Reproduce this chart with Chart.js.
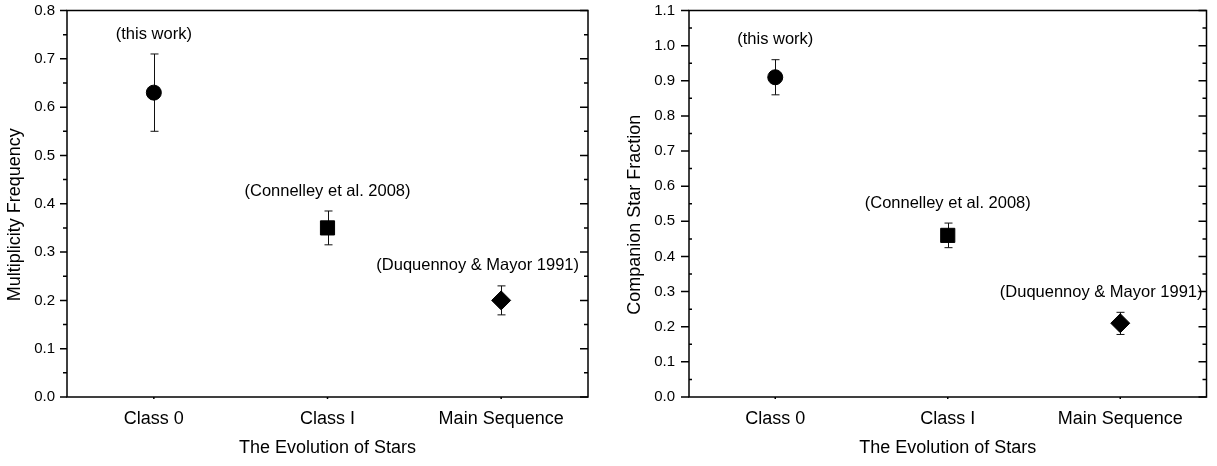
<!DOCTYPE html>
<html>
<head>
<meta charset="utf-8">
<script src="https://cdn.jsdelivr.net/npm/chart.js@4/dist/chart.umd.min.js"></script>
<style>
  html, body { margin: 0; padding: 0; background: #fff; }
  #wrap { position: relative; width: 1217px; height: 466px; }
  #c1 { position: absolute; left: 0; top: 0; }
  #c2 { position: absolute; left: 608px; top: 0; }
</style>
</head>
<body>
<div id="wrap">
  <canvas id="c1" width="608" height="466"></canvas>
  <canvas id="c2" width="609" height="466"></canvas>
</div>
<script>
// ---- data ----
const categories = ['Class 0', 'Class I', 'Main Sequence'];
const refLabels = ['(this work)', '(Connelley et al. 2008)', '(Duquennoy & Mayor 1991)'];

const multValues = [0.63, 0.35, 0.20];
const multErrLow = [0.55, 0.315, 0.17];
const multErrHigh = [0.71, 0.385, 0.23];

const compValues = [0.91, 0.46, 0.21];
const compErrLow = [0.86, 0.425, 0.178];
const compErrHigh = [0.96, 0.495, 0.241];

const xTitle = 'The Evolution of Stars';
const multTitle = 'Multiplicity Frequency';
const compTitle = 'Companion Star Fraction';

const FONT = '"Liberation Sans", Arial, Helvetica, sans-serif';
Chart.defaults.font.family = FONT;
Chart.defaults.color = '#000';

// error bars, frame, minor ticks, y title and reference labels
function makeOverlay(errLow, errHigh, yTitle, look) {
    return {
        id: 'overlay',
        beforeDatasetsDraw(chart) {
            const ctx = chart.ctx;
            const x = chart.scales.x, y = chart.scales.y;
            ctx.save();
            ctx.strokeStyle = '#111';
            ctx.lineWidth = 1;
            errLow.forEach((lo, i) => {
                const px = Math.round(x.getPixelForValue(i)) + 0.5;
                const yLo = y.getPixelForValue(lo);
                const yHi = y.getPixelForValue(errHigh[i]);
                ctx.beginPath();
                ctx.moveTo(px, yLo); ctx.lineTo(px, yHi);
                ctx.moveTo(px - 4, yLo); ctx.lineTo(px + 4, yLo);
                ctx.moveTo(px - 4, yHi); ctx.lineTo(px + 4, yHi);
                ctx.stroke();
            });
            ctx.restore();
        },
        afterDraw(chart) {
            const ctx = chart.ctx;
            const a = chart.chartArea;
            const x = chart.scales.x, y = chart.scales.y;
            ctx.save();
            ctx.strokeStyle = '#000';
            ctx.lineWidth = 1.5;
            ctx.strokeRect(a.left, a.top, a.right - a.left, a.bottom - a.top);

            // y ticks every half step
            const half = y.options.ticks.stepSize / 2;
            const n = Math.round((y.max - y.min) / half);
            ctx.beginPath();
            for (let k = 0; k <= n; k++) {
                const py = y.getPixelForValue(y.min + k * half);
                const major = k % 2 === 0;
                const l = major ? look.leftMajor : look.leftMinor;
                const r = major ? look.rightMajor : look.rightMinor;
                ctx.moveTo(a.left, py); ctx.lineTo(a.left + l, py);
                ctx.moveTo(a.right, py); ctx.lineTo(a.right - r, py);
            }
            categories.forEach((c, i) => {
                const px = x.getPixelForValue(i);
                ctx.moveTo(px, a.bottom); ctx.lineTo(px, a.bottom + 2);
            });
            ctx.stroke();

            ctx.fillStyle = '#000';

            // y axis title
            ctx.save();
            ctx.font = '18px ' + FONT;
            ctx.textAlign = 'center';
            ctx.textBaseline = 'middle';
            ctx.translate(look.titleX, (a.top + a.bottom) / 2 + 11);
            ctx.rotate(-Math.PI / 2);
            ctx.fillText(yTitle, 0, 0);
            ctx.restore();

            // reference labels above each error bar
            ctx.font = '16.5px ' + FONT;
            ctx.textAlign = 'center';
            ctx.textBaseline = 'middle';
            refLabels.forEach((t, i) => {
                const w = ctx.measureText(t).width;
                let cx = x.getPixelForValue(i);
                if (cx + w / 2 > a.right - look.labelGap) cx = a.right - look.labelGap - w / 2;
                const cy = y.getPixelForValue(errHigh[i]) - 20;
                ctx.fillText(t, cx, cy);
            });
            ctx.restore();
        }
    };
}

function makeChart(canvasId, values, errLow, errHigh, yMax, yTitle, look) {
    const ctx = document.getElementById(canvasId).getContext('2d');
    return new Chart(ctx, {
        type: 'line',
        data: {
            labels: categories,
            datasets: [{
                data: values,
                showLine: false,
                pointStyle: ['circle', 'rect', 'rectRot'],
                pointRadius: [7.5, 10, 9.5],
                pointBorderWidth: 1,
                backgroundColor: '#000',
                borderColor: '#000'
            }]
        },
        options: {
            responsive: false,
            animation: false,
            events: [],
            layout: { padding: { top: 10, right: look.right, left: 0, bottom: 0 } },
            scales: {
                x: {
                    type: 'category',
                    offset: true,
                    grid: { display: false },
                    border: { display: false },
                    ticks: { font: { size: 18 }, color: '#000', padding: 3, maxRotation: 0 },
                    title: { display: true, text: xTitle, font: { size: 18 }, color: '#000', padding: { top: 0, bottom: 7 } },
                    afterFit: s => { s.height = 69; }
                },
                y: {
                    type: 'linear',
                    min: 0,
                    max: yMax,
                    grid: { display: false },
                    border: { display: false },
                    ticks: {
                        stepSize: 0.1,
                        font: { size: 15 },
                        color: '#000',
                        padding: look.tickPad,
                        callback: v => v.toFixed(1)
                    },
                    afterFit: s => {
                        s.width = look.yWidth;
                        s.paddingTop = 0;
                        s.paddingBottom = 0;
                    }
                }
            },
            plugins: {
                legend: { display: false },
                tooltip: { enabled: false }
            }
        },
        plugins: [makeOverlay(errLow, errHigh, yTitle, look)]
    });
}

makeChart('c1', multValues, multErrLow, multErrHigh, 0.8, multTitle, {
    right: 20, yWidth: 67, tickPad: 4, titleX: 15, labelGap: 9,
    leftMajor: -7, leftMinor: -4, rightMajor: 8, rightMinor: 4
});

makeChart('c2', compValues, compErrLow, compErrHigh, 1.1, compTitle, {
    right: 7, yWidth: 81, tickPad: 6, titleX: 27, labelGap: 4,
    leftMajor: -8, leftMinor: 3, rightMajor: 8, rightMinor: 4
});
</script>
</body>
</html>
